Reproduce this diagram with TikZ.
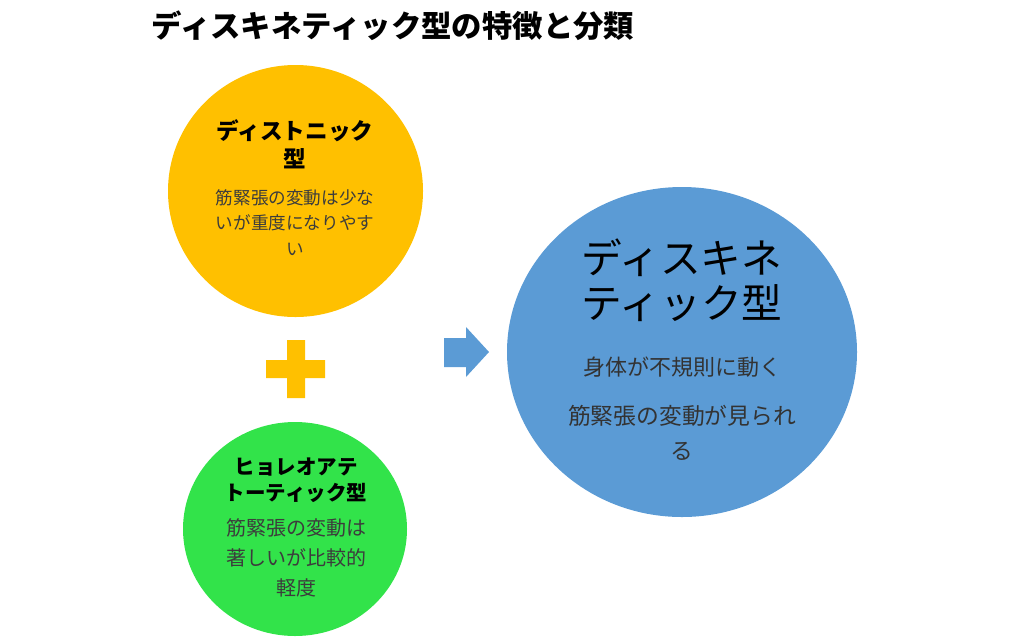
\documentclass[tikz,border=0pt]{standalone}
\usepackage{fontspec}
\setmainfont{Noto Sans CJK JP}
\usetikzlibrary{positioning}
\usetikzlibrary{shapes.geometric}

\definecolor{gold}{RGB}{255,192,0}
\definecolor{leaf}{RGB}{50,227,74}
\definecolor{sky}{RGB}{91,155,213}
\definecolor{ink}{RGB}{60,60,60}

\newcommand{\fs}[2]{\fontsize{#1}{#2}\selectfont}

\begin{document}
\begin{tikzpicture}[x=1pt, y=-1pt,
    ball/.style={ellipse, inner sep=0pt, draw=none},
    head/.style={align=center, inner sep=0pt, text=black},
    body/.style={align=center, inner sep=0pt, text=ink}]
    \useasboundingbox (0,0) rectangle (1024,638);
    \node[head, font={\fs{30.4}{36}\bfseries}] (title) at (393,26) {ディスキネティック型の特徴と分類};
    % three circles
    \node[ball, fill=gold, minimum width=255, minimum height=252] (dyst) at (295.5,191) {};
    \node[ball, fill=leaf, minimum width=224, minimum height=214] (chor) at (295,529) {};
    \node[ball, fill=sky, minimum width=350, minimum height=330] (dysk) at (682,352) {};
    % plus and arrow
    \fill[gold] (287,340) -- (305,340) -- (305,360) -- (325,360) -- (325,378) -- (305,378)
        -- (305,398) -- (287,398) -- (287,378) -- (266,378) -- (266,360) -- (287,360) -- cycle;
    \fill[sky] (444,338) -- (466,338) -- (466,327) -- (489,352) -- (466,377) -- (466,367)
        -- (444,367) -- cycle;
    % texts
    \node[head, font={\fs{22.6}{28}\bfseries}] (dysth) at (295,144) {ディストニック\\型};
    \node[body, font={\fs{17.6}{25.5}}] (dystb) at (295,222.5) {筋緊張の変動は少な\\いが重度になりやす\\い};
    \node[head, font={\fs{20.5}{26}\bfseries}] (chorh) at (296,480) {ヒョレオアテ\\トーティック型};
    \node[body, font={\fs{20}{30}}] (chorb) at (296,558) {筋緊張の変動は\\著しいが比較的\\軽度};
    \node[head, font={\fs{40.7}{45}}] (dyskh) at (682,280.5) {ディスキネ\\ティック型};
    \node[body, text=black!80, font={\fs{22}{35}}] (dyskb) at (682,367) {身体が不規則に動く};
    \node[body, text=black!80, font={\fs{22.8}{35}}] (dyskc) at (682,432.5) {筋緊張の変動が見られ\\る};
\end{tikzpicture}
\end{document}
